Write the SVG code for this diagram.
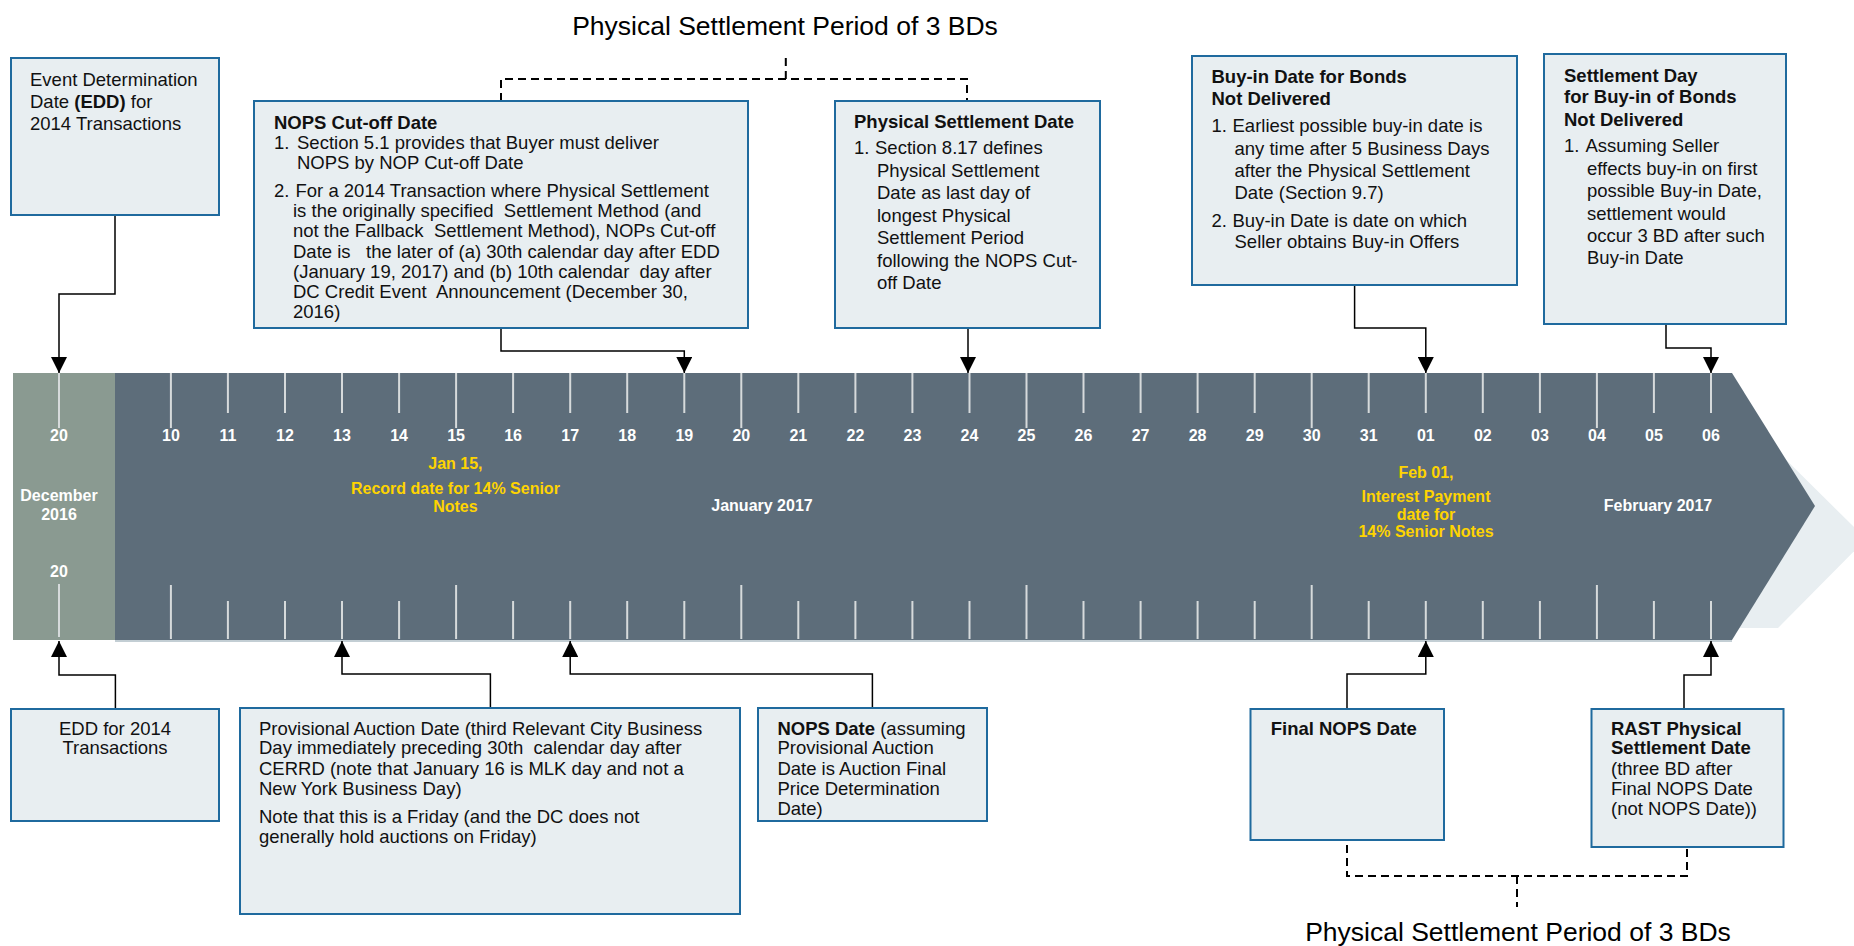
<svg xmlns="http://www.w3.org/2000/svg" width="1854" height="946" viewBox="0 0 1854 946">
<defs>
<style>
.box{fill:#e8eef1;stroke:#1f6a9e;stroke-width:2}
.t{font-family:"Liberation Sans",Arial,sans-serif;font-size:18.5px;fill:#111;white-space:pre}
.b{font-weight:bold}
.tl{font-family:"Liberation Sans",Arial,sans-serif;font-size:16px;font-weight:bold;fill:#fff;text-anchor:middle}
.y{fill:#ffd400}
.tick{stroke:#d6dadb;stroke-width:2}
.conn{fill:none;stroke:#000;stroke-width:1.5}
.dash{fill:none;stroke:#000;stroke-width:2;stroke-dasharray:8 5}
.ttl{font-family:"Liberation Sans",Arial,sans-serif;font-size:26.5px;fill:#000;text-anchor:middle}
</style>
<marker id="ah" viewBox="0 0 16 16" refX="16" refY="8" markerWidth="16" markerHeight="16" markerUnits="userSpaceOnUse" orient="auto">
<path d="M0,0 L16,8 L0,16 Z" fill="#000"/>
</marker>
</defs>
<rect width="1854" height="946" fill="#fff"/>

<g id="timeline">
<polygon points="1700,400 1726,400 1866,539 1778,628 1700,628" fill="#e8eef1"/>
<rect x="115" y="639" width="1617" height="3" fill="#c3ced4"/>
<rect x="13" y="373" width="102" height="267" fill="#8a9a91"/>
<polygon points="115,373 1732,373 1815,506 1732,640 115,640" fill="#5d6d7a"/>
<g class="tick">
<path d="M59,373V428M59,584V637"/>
<path d="M170.9,373V428M227.9,373V413M285,373V413M342,373V413M399.1,373V413M456.1,373V428M513.1,373V413M570.2,373V413M627.2,373V413M684.3,373V413M741.3,373V428M798.3,373V413M855.4,373V413M912.4,373V413M969.5,373V413M1026.5,373V428M1083.5,373V413M1140.6,373V413M1197.6,373V413M1254.7,373V413M1311.7,373V428M1368.7,373V413M1425.8,373V413M1482.8,373V413M1539.9,373V413M1596.9,373V428M1653.9,373V413M1711,373V413"/>
<path d="M170.9,585V639M227.9,601V639M285,601V639M342,601V639M399.1,601V639M456.1,585V639M513.1,601V639M570.2,601V639M627.2,601V639M684.3,601V639M741.3,585V639M798.3,601V639M855.4,601V639M912.4,601V639M969.5,601V639M1026.5,585V639M1083.5,601V639M1140.6,601V639M1197.6,601V639M1254.7,601V639M1311.7,585V639M1368.7,601V639M1425.8,601V639M1482.8,601V639M1539.9,601V639M1596.9,585V639M1653.9,601V639M1711,601V639"/>
</g>
<g class="tl">
<text x="59" y="441">20</text>
<text x="59" y="577">20</text>
<text x="59" y="501">December</text>
<text x="59" y="520">2016</text>
<text x="170.9" y="441">10</text>
<text x="227.9" y="441">11</text>
<text x="285" y="441">12</text>
<text x="342" y="441">13</text>
<text x="399.1" y="441">14</text>
<text x="456.1" y="441">15</text>
<text x="513.1" y="441">16</text>
<text x="570.2" y="441">17</text>
<text x="627.2" y="441">18</text>
<text x="684.3" y="441">19</text>
<text x="741.3" y="441">20</text>
<text x="798.3" y="441">21</text>
<text x="855.4" y="441">22</text>
<text x="912.4" y="441">23</text>
<text x="969.5" y="441">24</text>
<text x="1026.5" y="441">25</text>
<text x="1083.5" y="441">26</text>
<text x="1140.6" y="441">27</text>
<text x="1197.6" y="441">28</text>
<text x="1254.7" y="441">29</text>
<text x="1311.7" y="441">30</text>
<text x="1368.7" y="441">31</text>
<text x="1425.8" y="441">01</text>
<text x="1482.8" y="441">02</text>
<text x="1539.9" y="441">03</text>
<text x="1596.9" y="441">04</text>
<text x="1653.9" y="441">05</text>
<text x="1711" y="441">06</text>
<text x="762" y="511">January 2017</text>
<text x="1658" y="511">February 2017</text>
<text class="y" x="455.4" y="469">Jan 15,</text>
<text class="y" x="455.4" y="494">Record date for 14% Senior</text>
<text class="y" x="455.4" y="512">Notes</text>
<text class="y" x="1426" y="478">Feb 01,</text>
<text class="y" x="1426" y="502">Interest Payment</text>
<text class="y" x="1426" y="520">date for</text>
<text class="y" x="1426" y="537">14% Senior Notes</text>
</g>
</g>

<g id="connectors">
<path class="conn" marker-end="url(#ah)" d="M115,215V294H59V373"/>
<path class="conn" marker-end="url(#ah)" d="M501,328V351H684.3V373"/>
<path class="conn" marker-end="url(#ah)" d="M968,328V373"/>
<path class="conn" marker-end="url(#ah)" d="M1354.6,285V328H1425.8V373"/>
<path class="conn" marker-end="url(#ah)" d="M1666,324V348H1711V373"/>
<path class="conn" marker-end="url(#ah)" d="M115.4,709V675H59V641"/>
<path class="conn" marker-end="url(#ah)" d="M490.4,708V674H342V641"/>
<path class="conn" marker-end="url(#ah)" d="M872.4,708V674H570.2V641"/>
<path class="conn" marker-end="url(#ah)" d="M1347,709V674H1425.8V641"/>
<path class="conn" marker-end="url(#ah)" d="M1684,709V675H1711V641"/>
<path class="dash" d="M501,101V79H967V101M785.8,79V58"/>
<path class="dash" d="M1347,845V876H1687V847M1517,876V907"/>
</g>

<g id="title-top"><text class="ttl" x="785" y="35">Physical Settlement Period of 3 BDs</text></g>
<g id="title-bottom"><text class="ttl" x="1518" y="941">Physical Settlement Period of 3 BDs</text></g>

<g id="edd-top">
<rect class="box" x="11" y="58" width="208" height="157"/>
<text class="t" x="30" y="86">Event Determination</text>
<text class="t" x="30" y="108">Date <tspan class="b">(EDD)</tspan> for</text>
<text class="t" x="30" y="130">2014 Transactions</text>
</g>

<g id="nops-cutoff">
<rect class="box" x="254" y="101" width="494" height="227"/>
<text class="t b" x="274" y="129">NOPS Cut-off Date</text>
<text class="t" y="149"><tspan x="274">1.</tspan><tspan x="297">Section 5.1 provides that Buyer must deliver</tspan></text>
<text class="t" x="297" y="169">NOPS by NOP Cut-off Date</text>
<text class="t" y="197"><tspan x="274">2.</tspan><tspan x="295.5">For a 2014 Transaction where Physical Settlement</tspan></text>
<text class="t" x="293" y="217">is the originally specified  Settlement Method (and</text>
<text class="t" x="293" y="237">not the Fallback  Settlement Method), NOPs Cut-off</text>
<text class="t" x="293" y="258">Date is   the later of (a) 30th calendar day after EDD</text>
<text class="t" x="293" y="278">(January 19, 2017) and (b) 10th calendar  day after</text>
<text class="t" x="293" y="298">DC Credit Event  Announcement (December 30,</text>
<text class="t" x="293" y="318">2016)</text>
</g>

<g id="physical-settlement-date">
<rect class="box" x="835" y="101" width="265" height="227"/>
<text class="t b" x="854" y="128">Physical Settlement Date</text>
<text class="t" y="154"><tspan x="854">1.</tspan><tspan x="875">Section 8.17 defines</tspan></text>
<text class="t" x="877" y="177">Physical Settlement</text>
<text class="t" x="877" y="199">Date as last day of</text>
<text class="t" x="877" y="222">longest Physical</text>
<text class="t" x="877" y="244">Settlement Period</text>
<text class="t" x="877" y="267">following the NOPS Cut-</text>
<text class="t" x="877" y="289">off Date</text>
</g>

<g id="buy-in-date">
<rect class="box" x="1192" y="56" width="325" height="229"/>
<text class="t b" x="1211.5" y="83">Buy-in Date for Bonds</text>
<text class="t b" x="1211.5" y="105">Not Delivered</text>
<text class="t" y="132"><tspan x="1211.5">1.</tspan><tspan x="1232.5">Earliest possible buy-in date is</tspan></text>
<text class="t" x="1234.5" y="155">any time after 5 Business Days</text>
<text class="t" x="1234.5" y="177">after the Physical Settlement</text>
<text class="t" x="1234.5" y="199">Date (Section 9.7)</text>
<text class="t" y="227"><tspan x="1211.5">2.</tspan><tspan x="1232.5">Buy-in Date is date on which</tspan></text>
<text class="t" x="1234.5" y="248">Seller obtains Buy-in Offers</text>
</g>

<g id="settlement-day">
<rect class="box" x="1544" y="54" width="242" height="270"/>
<text class="t b" x="1564" y="82">Settlement Day</text>
<text class="t b" x="1564" y="103">for Buy-in of Bonds</text>
<text class="t b" x="1564" y="126">Not Delivered</text>
<text class="t" y="152"><tspan x="1564">1.</tspan><tspan x="1585.5">Assuming Seller</tspan></text>
<text class="t" x="1587" y="175">effects buy-in on first</text>
<text class="t" x="1587" y="197">possible Buy-in Date,</text>
<text class="t" x="1587" y="220">settlement would</text>
<text class="t" x="1587" y="242">occur 3 BD after such</text>
<text class="t" x="1587" y="264">Buy-in Date</text>
</g>

<g id="edd-bottom">
<rect class="box" x="11" y="709" width="208" height="112"/>
<text class="t" x="115" y="735" text-anchor="middle">EDD for 2014</text>
<text class="t" x="115" y="754" text-anchor="middle">Transactions</text>
</g>

<g id="provisional-auction">
<rect class="box" x="240" y="708" width="500" height="206"/>
<text class="t" x="259" y="735">Provisional Auction Date (third Relevant City Business</text>
<text class="t" x="259" y="754">Day immediately preceding 30th  calendar day after</text>
<text class="t" x="259" y="775">CERRD (note that January 16 is MLK day and not a</text>
<text class="t" x="259" y="795">New York Business Day)</text>
<text class="t" x="259" y="823">Note that this is a Friday (and the DC does not</text>
<text class="t" x="259" y="843">generally hold auctions on Friday)</text>
</g>

<g id="nops-date">
<rect class="box" x="758" y="708" width="229" height="113"/>
<text class="t" x="777.4" y="735"><tspan class="b">NOPS Date</tspan> (assuming</text>
<text class="t" x="777.4" y="754">Provisional Auction</text>
<text class="t" x="777.4" y="775">Date is Auction Final</text>
<text class="t" x="777.4" y="795">Price Determination</text>
<text class="t" x="777.4" y="815">Date)</text>
</g>

<g id="final-nops-date">
<rect class="box" x="1250.5" y="709" width="193.5" height="131"/>
<text class="t b" x="1270.7" y="735">Final NOPS Date</text>
</g>

<g id="rast-date">
<rect class="box" x="1591.5" y="709" width="192" height="138"/>
<text class="t b" x="1611" y="735">RAST Physical</text>
<text class="t b" x="1611" y="754">Settlement Date</text>
<text class="t" x="1611" y="775">(three BD after</text>
<text class="t" x="1611" y="795">Final NOPS Date</text>
<text class="t" x="1611" y="815">(not NOPS Date))</text>
</g>
</svg>
